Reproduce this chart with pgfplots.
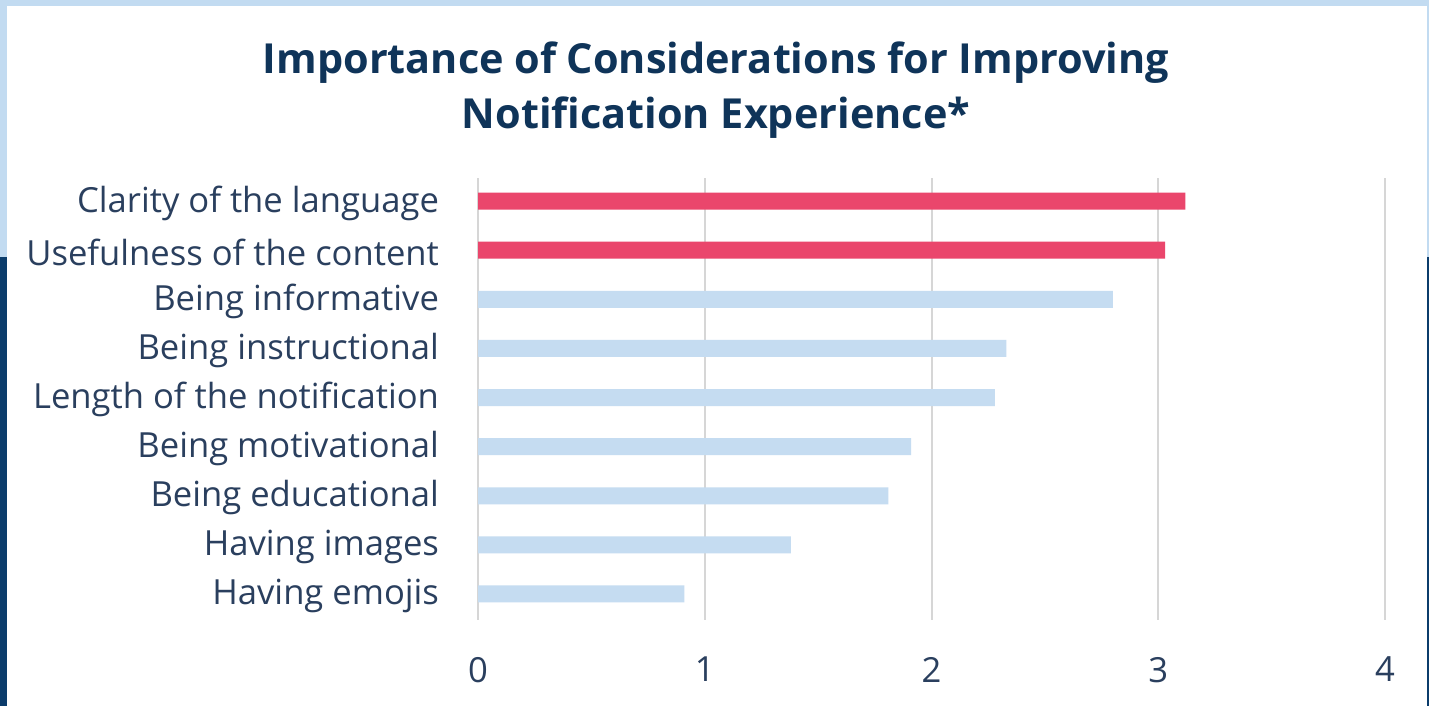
\documentclass[border=0pt]{standalone}
\usepackage{pgfplots}
\pgfplotsset{compat=1.18}
\usepackage{fontspec}
\setmainfont{Open Sans}
\definecolor{lblue}{HTML}{C2DBF1}
\definecolor{navy}{HTML}{0B3C6B}
\definecolor{barred}{HTML}{EA466C}
\definecolor{barblue}{HTML}{C5DCF1}
\definecolor{txt}{HTML}{2A3F5E}
\definecolor{ttl}{HTML}{0F3459}
\definecolor{grid}{HTML}{D6D6D6}
\begin{document}
\begin{tikzpicture}
\useasboundingbox (0,0) rectangle (714.5pt,-353pt);
\fill[white] (0,0) rectangle (714.5pt,-353pt);
\fill[lblue] (0,0) rectangle (714.5pt,-3pt);
\fill[lblue] (0,0) rectangle (3.5pt,-128.5pt);
\fill[navy] (0,-128.5pt) rectangle (3.5pt,-353pt);
\fill[lblue] (713.5pt,0) rectangle (714.5pt,-128.5pt);
\fill[navy] (713.5pt,-128.5pt) rectangle (714.5pt,-353pt);
\node[font=\bfseries\fontsize{20.7}{27.5}\selectfont, text=ttl, align=center] at (358pt,-45pt)
  {Importance of Considerations for Improving\\Notification Experience*};
\begin{axis}[
  at={(239pt,-310pt)}, anchor=south west,
  scale only axis, width=453.5pt, height=221pt,
  xmin=0, xmax=4, ymin=-0.47, ymax=8.53,
  y dir=reverse,
  xbar, bar width=8.5pt,
  axis line style={draw=none},
  major tick length=0pt,
  xtick={0,1,2,3,4},
  ytick={0,...,8},
  yticklabels={Clarity of the language,Usefulness of the content,Being informative,Being instructional,Length of the notification,Being motivational,Being educational,Having images,Having emojis},
  xmajorgrids, major grid style={draw=grid, line width=1pt},
  tick label style={font=\fontsize{17.3}{20}\selectfont, text=txt},
  /pgf/number format/assume math mode=true,
  yticklabel style={xshift=-16pt, yshift=-1pt},
  xticklabel style={yshift=-15pt},
  clip=false,
]
\addplot[draw=none, fill=barred, bar shift=0pt] coordinates {(3.12,0) (3.03,1)};
\addplot[draw=none, fill=barblue, bar shift=0pt] coordinates {(2.80,2) (2.33,3) (2.28,4) (1.91,5) (1.81,6) (1.38,7) (0.91,8)};
\end{axis}
\end{tikzpicture}
\end{document}
